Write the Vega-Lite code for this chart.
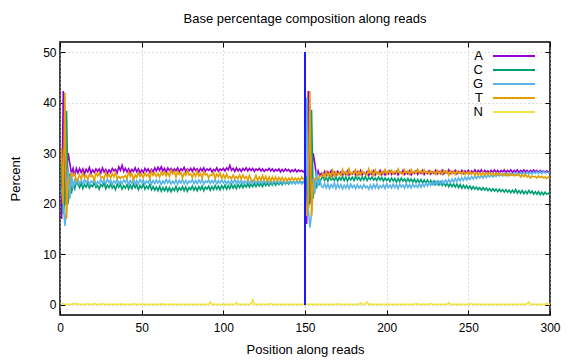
{
  "$schema": "https://vega.github.io/schema/vega-lite/v6.json",
  "autosize": "none",
  "width": 490,
  "height": 273,
  "padding": {"left": 60, "top": 42, "right": 26, "bottom": 45},
  "config": {
    "font": "Liberation Sans",
    "view": {"stroke": "#000000", "strokeWidth": 1.5},
    "axis": {"labelFont": "Liberation Sans", "titleFont": "Liberation Sans", "labelFontSize": 12, "titleFontSize": 13, "titleFontWeight": "normal", "labelColor": "#000000", "titleColor": "#000000", "tickColor": "#000000", "domain": false}
  },
  "title": {"text": "Base percentage composition along reads", "fontSize": 13, "fontWeight": "normal", "font": "Liberation Sans", "color": "#000000", "offset": 16},
  "datasets": {
    "bases": [
      {"p":1,"A":17,"C":28,"G":23,"T":31,"N":0.3},
      {"p":2,"A":42.3,"C":18,"G":20,"T":20,"N":0.2},
      {"p":3,"A":20,"C":21,"G":15.6,"T":42,"N":0.1},
      {"p":4,"A":27,"C":38.4,"G":19,"T":17,"N":0.1},
      {"p":5,"A":30,"C":20,"G":27,"T":24,"N":0.1},
      {"p":6,"A":28,"C":26,"G":21,"T":25,"N":0.1},
      {"p":7,"A":26,"C":22,"G":26,"T":26,"N":0.1},
      {"p":8,"A":27,"C":24,"G":23,"T":25.5,"N":0.3},
      {"p":9,"A":25.5,"C":23,"G":25,"T":26,"N":0.1},
      {"p":10,"A":27,"C":24.5,"G":24,"T":24.5,"N":0.3},
      {"p":11,"A":26.1,"C":23.9,"G":24.8,"T":25.0,"N":0.1},
      {"p":12,"A":27.0,"C":23.2,"G":24.0,"T":25.7,"N":0.1},
      {"p":13,"A":26.2,"C":24.1,"G":24.6,"T":24.9,"N":0.1},
      {"p":14,"A":26.9,"C":23.0,"G":23.9,"T":26.0,"N":0.1},
      {"p":15,"A":25.9,"C":23.8,"G":24.9,"T":25.2,"N":0.1},
      {"p":16,"A":26.8,"C":23.3,"G":24.1,"T":25.6,"N":0.1},
      {"p":17,"A":26.3,"C":24.0,"G":24.7,"T":24.8,"N":0.25},
      {"p":18,"A":27.2,"C":23.1,"G":23.8,"T":25.8,"N":0.1},
      {"p":19,"A":26.0,"C":23.7,"G":24.5,"T":25.4,"N":0.1},
      {"p":20,"A":26.7,"C":23.4,"G":24.2,"T":25.6,"N":0.1},
      {"p":21,"A":26.2,"C":24.2,"G":24.9,"T":24.6,"N":0.3},
      {"p":22,"A":26.9,"C":23.2,"G":23.7,"T":26.1,"N":0.1},
      {"p":23,"A":26.4,"C":23.6,"G":24.4,"T":25.5,"N":0.1},
      {"p":24,"A":26.9,"C":22.9,"G":24.0,"T":26.1,"N":0.1},
      {"p":25,"A":26.1,"C":23.8,"G":24.8,"T":25.2,"N":0.1},
      {"p":26,"A":27.1,"C":23.4,"G":24.1,"T":25.3,"N":0.25},
      {"p":27,"A":26.3,"C":24.1,"G":24.6,"T":24.9,"N":0.1},
      {"p":28,"A":26.8,"C":23.0,"G":23.9,"T":26.2,"N":0.1},
      {"p":29,"A":26.0,"C":23.7,"G":24.9,"T":25.3,"N":0.1},
      {"p":30,"A":26.7,"C":23.2,"G":24.2,"T":25.8,"N":0.1},
      {"p":31,"A":26.2,"C":23.9,"G":24.7,"T":25.1,"N":0.1},
      {"p":32,"A":27.0,"C":23.1,"G":23.8,"T":26.0,"N":0.1},
      {"p":33,"A":26.5,"C":23.6,"G":24.5,"T":25.3,"N":0.1},
      {"p":34,"A":26.8,"C":22.8,"G":24.1,"T":26.2,"N":0.1},
      {"p":35,"A":26.1,"C":23.9,"G":24.9,"T":25.0,"N":0.1},
      {"p":36,"A":27.3,"C":23.3,"G":23.9,"T":25.4,"N":0.1},
      {"p":37,"A":26.6,"C":23.8,"G":24.5,"T":25.0,"N":0.2},
      {"p":38,"A":27.6,"C":22.9,"G":24.0,"T":25.4,"N":0.1},
      {"p":39,"A":26.4,"C":23.6,"G":24.7,"T":25.2,"N":0.1},
      {"p":40,"A":27.0,"C":23.1,"G":24.2,"T":25.6,"N":0.1},
      {"p":41,"A":26.3,"C":23.8,"G":24.8,"T":25.0,"N":0.1},
      {"p":42,"A":26.9,"C":22.9,"G":23.8,"T":26.3,"N":0.1},
      {"p":43,"A":26.2,"C":23.7,"G":24.6,"T":25.4,"N":0.1},
      {"p":44,"A":26.8,"C":23.0,"G":24.1,"T":26.0,"N":0.1},
      {"p":45,"A":26.4,"C":23.9,"G":24.9,"T":24.7,"N":0.25},
      {"p":46,"A":27.1,"C":23.2,"G":23.9,"T":25.7,"N":0.1},
      {"p":47,"A":26.3,"C":23.8,"G":24.6,"T":25.2,"N":0.1},
      {"p":48,"A":26.9,"C":22.8,"G":24.0,"T":26.2,"N":0.1},
      {"p":49,"A":26.1,"C":23.6,"G":24.8,"T":25.4,"N":0.1},
      {"p":50,"A":26.7,"C":23.1,"G":24.2,"T":25.9,"N":0.1},
      {"p":51,"A":26.2,"C":23.9,"G":24.7,"T":25.1,"N":0.1},
      {"p":52,"A":27.0,"C":22.9,"G":23.9,"T":26.1,"N":0.1},
      {"p":53,"A":26.4,"C":23.5,"G":24.5,"T":25.5,"N":0.1},
      {"p":54,"A":26.9,"C":23.0,"G":24.1,"T":25.9,"N":0.1},
      {"p":55,"A":26.2,"C":23.8,"G":24.9,"T":25.0,"N":0.1},
      {"p":56,"A":26.8,"C":22.8,"G":23.9,"T":26.4,"N":0.1},
      {"p":57,"A":26.3,"C":23.4,"G":24.6,"T":25.6,"N":0.1},
      {"p":58,"A":27.1,"C":22.7,"G":24.0,"T":26.1,"N":0.1},
      {"p":59,"A":26.5,"C":23.3,"G":24.7,"T":25.4,"N":0.1},
      {"p":60,"A":27.2,"C":22.6,"G":24.1,"T":26.0,"N":0.1},
      {"p":61,"A":26.6,"C":23.4,"G":24.6,"T":25.3,"N":0.1},
      {"p":62,"A":27.3,"C":22.5,"G":23.8,"T":26.3,"N":0.2},
      {"p":63,"A":26.5,"C":23.2,"G":24.5,"T":25.7,"N":0.1},
      {"p":64,"A":27.0,"C":22.6,"G":24.0,"T":26.3,"N":0.1},
      {"p":65,"A":26.3,"C":23.3,"G":24.8,"T":25.5,"N":0.1},
      {"p":66,"A":27.1,"C":22.5,"G":24.1,"T":26.2,"N":0.1},
      {"p":67,"A":26.6,"C":23.2,"G":24.7,"T":25.4,"N":0.1},
      {"p":68,"A":27.0,"C":22.4,"G":23.9,"T":26.6,"N":0.1},
      {"p":69,"A":26.4,"C":23.1,"G":24.5,"T":25.9,"N":0.1},
      {"p":70,"A":26.9,"C":22.6,"G":24.0,"T":26.4,"N":0.1},
      {"p":71,"A":26.5,"C":23.4,"G":24.7,"T":25.3,"N":0.1},
      {"p":72,"A":27.1,"C":22.5,"G":23.9,"T":26.4,"N":0.1},
      {"p":73,"A":26.3,"C":23.2,"G":24.6,"T":25.8,"N":0.1},
      {"p":74,"A":26.9,"C":22.7,"G":24.1,"T":26.2,"N":0.1},
      {"p":75,"A":26.6,"C":23.4,"G":24.8,"T":25.1,"N":0.1},
      {"p":76,"A":27.2,"C":22.6,"G":24.0,"T":26.1,"N":0.1},
      {"p":77,"A":26.4,"C":23.3,"G":24.6,"T":25.6,"N":0.1},
      {"p":78,"A":26.9,"C":22.5,"G":23.9,"T":26.6,"N":0.1},
      {"p":79,"A":26.5,"C":23.2,"G":24.5,"T":25.7,"N":0.1},
      {"p":80,"A":27.0,"C":22.8,"G":24.2,"T":25.9,"N":0.1},
      {"p":81,"A":26.4,"C":23.5,"G":24.8,"T":25.2,"N":0.1},
      {"p":82,"A":27.1,"C":22.7,"G":24.0,"T":26.1,"N":0.1},
      {"p":83,"A":26.6,"C":23.3,"G":24.6,"T":25.4,"N":0.1},
      {"p":84,"A":26.9,"C":22.6,"G":24.0,"T":26.4,"N":0.1},
      {"p":85,"A":26.3,"C":23.4,"G":24.7,"T":25.5,"N":0.1},
      {"p":86,"A":27.0,"C":22.8,"G":24.1,"T":26.0,"N":0.1},
      {"p":87,"A":26.5,"C":23.5,"G":24.8,"T":25.1,"N":0.1},
      {"p":88,"A":27.1,"C":22.6,"G":23.9,"T":26.3,"N":0.1},
      {"p":89,"A":26.4,"C":23.3,"G":24.5,"T":25.7,"N":0.1},
      {"p":90,"A":26.9,"C":22.9,"G":24.2,"T":25.9,"N":0.1},
      {"p":91,"A":26.6,"C":23.5,"G":24.7,"T":25.1,"N":0.1},
      {"p":92,"A":27.0,"C":22.7,"G":24.0,"T":25.7,"N":0.6},
      {"p":93,"A":26.3,"C":23.4,"G":24.6,"T":25.6,"N":0.1},
      {"p":94,"A":26.8,"C":22.8,"G":24.1,"T":26.2,"N":0.1},
      {"p":95,"A":26.5,"C":23.6,"G":24.8,"T":25.0,"N":0.1},
      {"p":96,"A":27.1,"C":22.9,"G":24.0,"T":25.9,"N":0.1},
      {"p":97,"A":26.4,"C":23.5,"G":24.6,"T":25.4,"N":0.1},
      {"p":98,"A":26.9,"C":22.8,"G":24.1,"T":26.1,"N":0.1},
      {"p":99,"A":26.6,"C":23.6,"G":24.7,"T":25.0,"N":0.1},
      {"p":100,"A":27.0,"C":23.0,"G":24.1,"T":25.8,"N":0.1},
      {"p":101,"A":26.5,"C":23.7,"G":24.6,"T":25.1,"N":0.1},
      {"p":102,"A":27.1,"C":22.9,"G":24.0,"T":25.9,"N":0.1},
      {"p":103,"A":26.7,"C":23.6,"G":24.5,"T":25.1,"N":0.1},
      {"p":104,"A":27.6,"C":23.0,"G":23.9,"T":25.4,"N":0.1},
      {"p":105,"A":26.6,"C":23.8,"G":24.6,"T":24.9,"N":0.1},
      {"p":106,"A":27.0,"C":23.1,"G":24.1,"T":25.7,"N":0.1},
      {"p":107,"A":26.4,"C":23.7,"G":24.8,"T":25.0,"N":0.1},
      {"p":108,"A":27.1,"C":23.0,"G":24.0,"T":25.4,"N":0.45},
      {"p":109,"A":26.5,"C":23.8,"G":24.6,"T":25.0,"N":0.1},
      {"p":110,"A":26.9,"C":23.2,"G":24.1,"T":25.7,"N":0.1},
      {"p":111,"A":26.4,"C":23.9,"G":24.7,"T":24.9,"N":0.1},
      {"p":112,"A":27.0,"C":23.2,"G":24.0,"T":25.7,"N":0.1},
      {"p":113,"A":26.6,"C":23.8,"G":24.5,"T":25.0,"N":0.1},
      {"p":114,"A":27.1,"C":23.3,"G":24.1,"T":25.4,"N":0.1},
      {"p":115,"A":26.5,"C":24.0,"G":24.7,"T":24.7,"N":0.1},
      {"p":116,"A":27.0,"C":23.3,"G":24.0,"T":25.6,"N":0.1},
      {"p":117,"A":26.6,"C":23.9,"G":24.6,"T":24.8,"N":0.2},
      {"p":118,"A":27.0,"C":23.4,"G":24.1,"T":24.5,"N":1.0},
      {"p":119,"A":26.4,"C":24.0,"G":24.7,"T":24.8,"N":0.1},
      {"p":120,"A":26.9,"C":23.4,"G":24.0,"T":25.6,"N":0.1},
      {"p":121,"A":26.6,"C":24.1,"G":24.6,"T":24.6,"N":0.1},
      {"p":122,"A":27.0,"C":23.5,"G":24.1,"T":25.3,"N":0.1},
      {"p":123,"A":26.5,"C":24.0,"G":24.7,"T":24.7,"N":0.1},
      {"p":124,"A":26.9,"C":23.4,"G":24.0,"T":25.6,"N":0.1},
      {"p":125,"A":26.4,"C":24.2,"G":24.6,"T":24.7,"N":0.1},
      {"p":126,"A":26.8,"C":23.6,"G":24.1,"T":25.4,"N":0.1},
      {"p":127,"A":26.6,"C":24.1,"G":24.7,"T":24.5,"N":0.1},
      {"p":128,"A":27.0,"C":23.6,"G":24.0,"T":25.3,"N":0.1},
      {"p":129,"A":26.5,"C":24.2,"G":24.6,"T":24.5,"N":0.25},
      {"p":130,"A":26.9,"C":23.7,"G":24.0,"T":25.3,"N":0.1},
      {"p":131,"A":26.4,"C":24.3,"G":24.6,"T":24.6,"N":0.1},
      {"p":132,"A":26.8,"C":23.7,"G":24.1,"T":25.3,"N":0.1},
      {"p":133,"A":26.5,"C":24.2,"G":24.7,"T":24.5,"N":0.1},
      {"p":134,"A":26.9,"C":23.8,"G":24.0,"T":25.2,"N":0.1},
      {"p":135,"A":26.3,"C":24.3,"G":24.6,"T":24.7,"N":0.1},
      {"p":136,"A":26.8,"C":23.8,"G":24.1,"T":25.2,"N":0.1},
      {"p":137,"A":26.4,"C":24.4,"G":24.6,"T":24.5,"N":0.1},
      {"p":138,"A":26.9,"C":23.9,"G":24.0,"T":25.1,"N":0.1},
      {"p":139,"A":26.5,"C":24.3,"G":24.6,"T":24.5,"N":0.1},
      {"p":140,"A":26.8,"C":23.9,"G":24.1,"T":25.1,"N":0.1},
      {"p":141,"A":26.3,"C":24.4,"G":24.6,"T":24.6,"N":0.1},
      {"p":142,"A":26.7,"C":24.0,"G":24.0,"T":25.2,"N":0.1},
      {"p":143,"A":26.4,"C":24.4,"G":24.5,"T":24.6,"N":0.1},
      {"p":144,"A":26.8,"C":24.0,"G":24.0,"T":25.1,"N":0.1},
      {"p":145,"A":26.3,"C":24.5,"G":24.4,"T":24.7,"N":0.1},
      {"p":146,"A":26.7,"C":24.1,"G":24.0,"T":25.1,"N":0.1},
      {"p":147,"A":26.4,"C":24.5,"G":24.4,"T":24.6,"N":0.1},
      {"p":148,"A":26.6,"C":24.1,"G":23.9,"T":25.3,"N":0.1},
      {"p":149,"A":26.3,"C":24.4,"G":24.3,"T":24.9,"N":0.1},
      {"p":150,"A":26.6,"C":24.2,"G":24.0,"T":25.1,"N":0.1},
      {"p":151,"A":16,"C":25.4,"G":41,"T":17.6,"N":0.1},
      {"p":152,"A":42.3,"C":19,"G":19,"T":20,"N":0.1},
      {"p":153,"A":20,"C":22,"G":15.3,"T":42.3,"N":0.1},
      {"p":154,"A":26,"C":38.6,"G":18,"T":17.5,"N":0.1},
      {"p":155,"A":30,"C":21,"G":25,"T":24,"N":0.1},
      {"p":156,"A":28,"C":25,"G":22,"T":25,"N":0.1},
      {"p":157,"A":25.5,"C":23,"G":26.5,"T":25,"N":0.1},
      {"p":158,"A":26.5,"C":25,"G":23.5,"T":25,"N":0.1},
      {"p":159,"A":25.5,"C":24,"G":25,"T":25.5,"N":0.1},
      {"p":160,"A":26,"C":25,"G":23.5,"T":25.5,"N":0.1},
      {"p":161,"A":25.6,"C":25.3,"G":23.2,"T":26.0,"N":0.1},
      {"p":162,"A":26.4,"C":24.6,"G":24.0,"T":25.2,"N":0.1},
      {"p":163,"A":25.7,"C":25.2,"G":23.1,"T":26.4,"N":0.1},
      {"p":164,"A":26.3,"C":24.5,"G":23.9,"T":25.6,"N":0.1},
      {"p":165,"A":25.8,"C":25.4,"G":23.0,"T":26.1,"N":0.1},
      {"p":166,"A":26.5,"C":24.7,"G":23.8,"T":25.3,"N":0.1},
      {"p":167,"A":25.6,"C":25.1,"G":23.2,"T":26.6,"N":0.1},
      {"p":168,"A":26.2,"C":24.6,"G":24.1,"T":25.5,"N":0.1},
      {"p":169,"A":25.7,"C":25.3,"G":23.0,"T":26.3,"N":0.1},
      {"p":170,"A":26.4,"C":24.5,"G":23.9,"T":25.7,"N":0.25},
      {"p":171,"A":25.9,"C":25.2,"G":23.1,"T":26.1,"N":0.1},
      {"p":172,"A":26.3,"C":24.7,"G":23.8,"T":25.6,"N":0.1},
      {"p":173,"A":25.6,"C":25.4,"G":22.9,"T":26.8,"N":0.1},
      {"p":174,"A":26.2,"C":24.6,"G":23.7,"T":25.9,"N":0.1},
      {"p":175,"A":25.8,"C":25.3,"G":23.1,"T":26.3,"N":0.1},
      {"p":176,"A":26.5,"C":24.5,"G":23.8,"T":25.7,"N":0.1},
      {"p":177,"A":25.7,"C":25.2,"G":23.0,"T":26.9,"N":0.1},
      {"p":178,"A":26.1,"C":24.7,"G":23.9,"T":25.8,"N":0.1},
      {"p":179,"A":25.9,"C":25.3,"G":23.2,"T":26.2,"N":0.1},
      {"p":180,"A":26.4,"C":24.6,"G":23.7,"T":25.9,"N":0.1},
      {"p":181,"A":25.6,"C":25.4,"G":23.0,"T":26.7,"N":0.1},
      {"p":182,"A":26.3,"C":24.8,"G":23.8,"T":25.6,"N":0.1},
      {"p":183,"A":25.8,"C":25.2,"G":23.1,"T":26.4,"N":0.1},
      {"p":184,"A":26.6,"C":24.6,"G":23.6,"T":25.8,"N":0.4},
      {"p":185,"A":25.7,"C":25.3,"G":23.0,"T":26.5,"N":0.1},
      {"p":186,"A":26.2,"C":24.7,"G":23.8,"T":25.9,"N":0.1},
      {"p":187,"A":25.9,"C":25.4,"G":23.2,"T":26.1,"N":0.2},
      {"p":188,"A":26.4,"C":24.6,"G":23.5,"T":25.7,"N":0.6},
      {"p":189,"A":25.6,"C":25.2,"G":22.9,"T":26.9,"N":0.1},
      {"p":190,"A":26.1,"C":24.8,"G":23.7,"T":26.0,"N":0.1},
      {"p":191,"A":25.8,"C":25.3,"G":23.0,"T":26.5,"N":0.1},
      {"p":192,"A":26.5,"C":24.7,"G":23.8,"T":25.6,"N":0.1},
      {"p":193,"A":25.7,"C":25.1,"G":23.1,"T":26.7,"N":0.1},
      {"p":194,"A":26.2,"C":24.6,"G":23.9,"T":25.9,"N":0.1},
      {"p":195,"A":26.0,"C":25.3,"G":23.0,"T":26.3,"N":0.1},
      {"p":196,"A":26.6,"C":24.7,"G":23.6,"T":25.7,"N":0.1},
      {"p":197,"A":25.8,"C":25.2,"G":23.2,"T":26.4,"N":0.1},
      {"p":198,"A":26.3,"C":24.5,"G":23.8,"T":26.0,"N":0.1},
      {"p":199,"A":25.7,"C":25.1,"G":23.0,"T":26.8,"N":0.1},
      {"p":200,"A":26.2,"C":24.6,"G":23.9,"T":25.9,"N":0.1},
      {"p":201,"A":25.9,"C":25.0,"G":23.2,"T":26.5,"N":0.1},
      {"p":202,"A":26.5,"C":24.4,"G":23.7,"T":26.0,"N":0.1},
      {"p":203,"A":25.8,"C":25.1,"G":23.1,"T":26.6,"N":0.1},
      {"p":204,"A":26.2,"C":24.5,"G":23.9,"T":25.9,"N":0.1},
      {"p":205,"A":25.9,"C":25.0,"G":23.2,"T":26.4,"N":0.1},
      {"p":206,"A":26.4,"C":24.3,"G":23.8,"T":26.1,"N":0.1},
      {"p":207,"A":25.7,"C":25.0,"G":23.0,"T":26.9,"N":0.1},
      {"p":208,"A":26.3,"C":24.4,"G":23.9,"T":26.0,"N":0.1},
      {"p":209,"A":26.0,"C":25.1,"G":23.3,"T":26.2,"N":0.1},
      {"p":210,"A":26.6,"C":24.5,"G":23.7,"T":25.8,"N":0.1},
      {"p":211,"A":25.8,"C":24.9,"G":23.1,"T":26.7,"N":0.1},
      {"p":212,"A":26.2,"C":24.3,"G":24.0,"T":26.1,"N":0.1},
      {"p":213,"A":25.9,"C":25.0,"G":23.2,"T":26.5,"N":0.1},
      {"p":214,"A":26.5,"C":24.4,"G":23.8,"T":25.9,"N":0.1},
      {"p":215,"A":25.7,"C":24.9,"G":23.1,"T":26.8,"N":0.1},
      {"p":216,"A":26.3,"C":24.3,"G":23.9,"T":26.0,"N":0.1},
      {"p":217,"A":26.0,"C":24.9,"G":23.3,"T":26.4,"N":0.1},
      {"p":218,"A":26.5,"C":24.2,"G":23.7,"T":26.1,"N":0.3},
      {"p":219,"A":25.8,"C":24.8,"G":23.2,"T":26.8,"N":0.1},
      {"p":220,"A":26.3,"C":24.2,"G":24.0,"T":26.1,"N":0.1},
      {"p":221,"A":26.0,"C":24.8,"G":23.3,"T":26.5,"N":0.1},
      {"p":222,"A":26.6,"C":24.1,"G":23.9,"T":26.0,"N":0.1},
      {"p":223,"A":25.8,"C":24.7,"G":23.4,"T":26.7,"N":0.1},
      {"p":224,"A":26.3,"C":24.1,"G":24.1,"T":26.0,"N":0.1},
      {"p":225,"A":26.0,"C":24.7,"G":23.5,"T":26.4,"N":0.1},
      {"p":226,"A":26.5,"C":24.0,"G":24.2,"T":25.9,"N":0.1},
      {"p":227,"A":25.9,"C":24.6,"G":23.6,"T":26.5,"N":0.25},
      {"p":228,"A":26.3,"C":23.9,"G":24.3,"T":26.1,"N":0.1},
      {"p":229,"A":26.0,"C":24.5,"G":23.7,"T":26.4,"N":0.1},
      {"p":230,"A":26.6,"C":23.8,"G":24.4,"T":25.8,"N":0.1},
      {"p":231,"A":25.9,"C":24.4,"G":23.8,"T":26.6,"N":0.1},
      {"p":232,"A":26.4,"C":23.7,"G":24.5,"T":26.0,"N":0.1},
      {"p":233,"A":26.0,"C":24.3,"G":23.9,"T":26.4,"N":0.1},
      {"p":234,"A":26.6,"C":23.6,"G":24.6,"T":25.8,"N":0.1},
      {"p":235,"A":25.9,"C":24.2,"G":24.0,"T":26.6,"N":0.1},
      {"p":236,"A":26.4,"C":23.5,"G":24.7,"T":26.1,"N":0.1},
      {"p":237,"A":26.1,"C":24.1,"G":24.1,"T":26.5,"N":0.1},
      {"p":238,"A":26.7,"C":23.4,"G":24.8,"T":25.6,"N":0.45},
      {"p":239,"A":26.0,"C":24.0,"G":24.2,"T":26.5,"N":0.1},
      {"p":240,"A":26.4,"C":23.4,"G":24.9,"T":25.9,"N":0.1},
      {"p":241,"A":26.1,"C":23.9,"G":24.3,"T":26.4,"N":0.1},
      {"p":242,"A":26.6,"C":23.3,"G":25.0,"T":25.8,"N":0.1},
      {"p":243,"A":25.9,"C":23.9,"G":24.4,"T":26.5,"N":0.1},
      {"p":244,"A":26.4,"C":23.2,"G":25.1,"T":26.0,"N":0.1},
      {"p":245,"A":26.1,"C":23.8,"G":24.5,"T":26.3,"N":0.1},
      {"p":246,"A":26.6,"C":23.1,"G":25.2,"T":25.8,"N":0.1},
      {"p":247,"A":26.0,"C":23.7,"G":24.6,"T":26.4,"N":0.1},
      {"p":248,"A":26.5,"C":23.1,"G":25.3,"T":25.8,"N":0.1},
      {"p":249,"A":26.1,"C":23.6,"G":24.7,"T":26.3,"N":0.1},
      {"p":250,"A":26.6,"C":23.0,"G":25.3,"T":25.8,"N":0.1},
      {"p":251,"A":26.0,"C":23.5,"G":24.8,"T":26.4,"N":0.1},
      {"p":252,"A":26.5,"C":22.9,"G":25.4,"T":25.9,"N":0.25},
      {"p":253,"A":26.2,"C":23.4,"G":24.9,"T":26.2,"N":0.1},
      {"p":254,"A":26.7,"C":22.9,"G":25.5,"T":25.6,"N":0.1},
      {"p":255,"A":26.1,"C":23.3,"G":25.0,"T":26.2,"N":0.1},
      {"p":256,"A":26.6,"C":22.8,"G":25.5,"T":25.7,"N":0.1},
      {"p":257,"A":26.2,"C":23.2,"G":25.1,"T":26.1,"N":0.1},
      {"p":258,"A":26.7,"C":22.7,"G":25.6,"T":25.6,"N":0.1},
      {"p":259,"A":26.1,"C":23.2,"G":25.1,"T":26.3,"N":0.1},
      {"p":260,"A":26.6,"C":22.7,"G":25.7,"T":25.6,"N":0.1},
      {"p":261,"A":26.2,"C":23.1,"G":25.2,"T":26.1,"N":0.1},
      {"p":262,"A":26.5,"C":22.6,"G":25.7,"T":25.8,"N":0.1},
      {"p":263,"A":26.1,"C":23.0,"G":25.3,"T":26.2,"N":0.1},
      {"p":264,"A":26.6,"C":22.5,"G":25.8,"T":25.7,"N":0.1},
      {"p":265,"A":26.2,"C":23.0,"G":25.3,"T":26.1,"N":0.1},
      {"p":266,"A":26.7,"C":22.5,"G":25.8,"T":25.6,"N":0.1},
      {"p":267,"A":26.2,"C":22.9,"G":25.4,"T":26.1,"N":0.1},
      {"p":268,"A":26.6,"C":22.4,"G":25.9,"T":25.7,"N":0.1},
      {"p":269,"A":26.1,"C":22.9,"G":25.5,"T":26.1,"N":0.1},
      {"p":270,"A":26.6,"C":22.4,"G":25.9,"T":25.7,"N":0.1},
      {"p":271,"A":26.3,"C":22.8,"G":25.5,"T":25.9,"N":0.1},
      {"p":272,"A":26.7,"C":22.3,"G":26.0,"T":25.6,"N":0.1},
      {"p":273,"A":26.2,"C":22.8,"G":25.6,"T":26.0,"N":0.1},
      {"p":274,"A":26.6,"C":22.3,"G":26.0,"T":25.5,"N":0.1},
      {"p":275,"A":26.3,"C":22.7,"G":25.6,"T":25.9,"N":0.1},
      {"p":276,"A":26.7,"C":22.2,"G":26.0,"T":25.6,"N":0.1},
      {"p":277,"A":26.2,"C":22.7,"G":25.7,"T":25.9,"N":0.1},
      {"p":278,"A":26.6,"C":22.2,"G":26.1,"T":25.5,"N":0.1},
      {"p":279,"A":26.3,"C":22.8,"G":25.7,"T":25.7,"N":0.1},
      {"p":280,"A":26.7,"C":22.1,"G":26.1,"T":25.6,"N":0.1},
      {"p":281,"A":26.2,"C":22.6,"G":25.7,"T":25.9,"N":0.1},
      {"p":282,"A":26.6,"C":22.1,"G":26.2,"T":25.3,"N":0.1},
      {"p":283,"A":26.3,"C":22.6,"G":25.8,"T":25.7,"N":0.1},
      {"p":284,"A":26.7,"C":22.0,"G":26.2,"T":25.4,"N":0.1},
      {"p":285,"A":26.3,"C":22.5,"G":25.8,"T":25.8,"N":0.1},
      {"p":286,"A":26.6,"C":22.0,"G":26.3,"T":25.3,"N":0.2},
      {"p":287,"A":26.2,"C":22.6,"G":25.9,"T":25.6,"N":0.55},
      {"p":288,"A":26.6,"C":22.1,"G":26.3,"T":25.1,"N":0.1},
      {"p":289,"A":26.3,"C":22.5,"G":25.9,"T":25.5,"N":0.1},
      {"p":290,"A":26.7,"C":21.9,"G":26.3,"T":25.3,"N":0.1},
      {"p":291,"A":26.3,"C":22.4,"G":26.0,"T":25.4,"N":0.1},
      {"p":292,"A":26.6,"C":21.9,"G":26.4,"T":25.1,"N":0.1},
      {"p":293,"A":26.2,"C":22.4,"G":26.0,"T":25.5,"N":0.1},
      {"p":294,"A":26.6,"C":21.8,"G":26.4,"T":25.2,"N":0.1},
      {"p":295,"A":26.3,"C":22.3,"G":26.0,"T":25.4,"N":0.1},
      {"p":296,"A":26.5,"C":21.8,"G":26.4,"T":25.1,"N":0.1},
      {"p":297,"A":26.3,"C":22.3,"G":26.1,"T":25.3,"N":0.1},
      {"p":298,"A":26.5,"C":21.9,"G":26.3,"T":25.0,"N":0.3},
      {"p":299,"A":26.3,"C":22.1,"G":26.1,"T":25.3,"N":0.1},
      {"p":300,"A":26.4,"C":21.8,"G":26.2,"T":25.2,"N":0.1}
    ],
    "marker": [{"x": 150, "y0": 0, "y1": 50}]
  },
  "layer": [
    {
      "data": {"name": "bases"},
      "transform": [{"fold": ["A", "C", "G", "T", "N"], "as": ["base", "pct"]}],
      "mark": {"type": "line", "strokeWidth": 1.6, "clip": true},
      "encoding": {
        "x": {"field": "p", "type": "quantitative", "scale": {"domain": [0, 300], "nice": false, "zero": false},
          "axis": {"orient": "bottom", "values": [0, 50, 100, 150, 200, 250, 300], "title": "Position along reads", "grid": true, "gridDash": [1, 3], "gridColor": "#b8b8b8", "tickSize": -5, "labelPadding": 12, "titlePadding": 10, "labelFlush": false}},
        "y": {"field": "pct", "type": "quantitative", "scale": {"domain": [-2, 52], "nice": false, "zero": false},
          "axis": {"orient": "left", "values": [0, 10, 20, 30, 40, 50], "title": "Percent", "grid": true, "gridDash": [1, 3], "gridColor": "#b8b8b8", "tickSize": -5, "labelPadding": 9, "titlePadding": 20}},
        "color": {"field": "base", "type": "nominal",
          "scale": {"domain": ["A", "C", "G", "T", "N"], "range": ["#9400d3", "#009e73", "#56b4e9", "#e69f00", "#f0e442"]},
          "legend": {"title": null, "orient": "none", "legendX": 447, "legendY": 7, "symbolType": "M-3.5,0H3.5", "symbolSize": 144, "symbolStrokeWidth": 2, "labelOffset": -38, "labelAlign": "right", "labelFontSize": 13, "labelFont": "Liberation Sans", "labelColor": "#000000", "rowPadding": 0, "padding": 0}}
      }
    },
    {
      "data": {"name": "marker"},
      "mark": {"type": "rule", "color": "#1a1aff", "strokeWidth": 2},
      "encoding": {
        "x": {"field": "x", "type": "quantitative", "axis": {"orient": "top", "values": [0, 50, 100, 150, 200, 250, 300], "labels": false, "title": null, "grid": false, "tickSize": -5}},
        "y": {"field": "y0", "type": "quantitative", "axis": {"orient": "right", "values": [0, 10, 20, 30, 40, 50], "labels": false, "title": null, "grid": false, "tickSize": -5}},
        "y2": {"field": "y1"}
      }
    }
  ]
}
